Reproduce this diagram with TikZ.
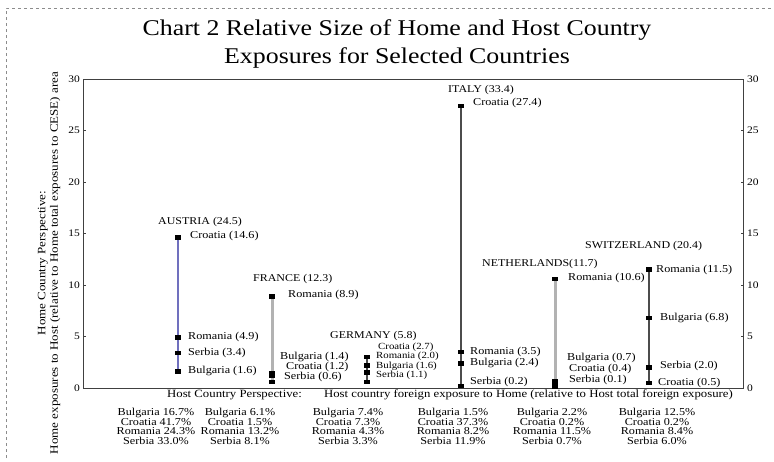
\documentclass[tikz,border=0pt]{standalone}
\usepackage{fontspec}
\setmainfont{Liberation Serif}[FakeStretch=1.15]
\definecolor{austriablue}{RGB}{112,112,190}
\begin{document}
\begin{tikzpicture}[x=1pt,y=-1pt,
  mk/.style={rectangle, fill=black, minimum width=6pt, minimum height=4.5pt, inner sep=0pt},
  lbl/.style={font=\fontsize{10.6}{10}\selectfont, inner sep=0pt, anchor=west},
  small lbl/.style={font=\fontsize{9.4}{9}\selectfont, inner sep=0pt, anchor=west},
  hdr/.style={font=\fontsize{10.4}{10}\selectfont, inner sep=0pt, anchor=west},
  tick/.style={font=\fontsize{10}{10}\selectfont, inner sep=0pt},
  tbl/.style={font=\fontsize{10.6}{9.7}\selectfont, inner sep=0pt, align=center, anchor=north},
  blue stem/.style={draw=austriablue, line width=1.3pt},
  grey stem/.style={draw=black!30, line width=3pt},
  dark stem/.style={draw=black!70, line width=1.2pt},
]
\useasboundingbox (0,0) rectangle (774,461);
% outer dashed frame
\draw[black!45, dashed, line width=0.6pt] (6,458) -- (6,8) -- (774,8);

% title
\node[font=\fontsize{22.5}{28}\selectfont, align=center] (title) at (397,44)
  {Chart 2 Relative Size of Home and Host Country\\Exposures for Selected Countries};

% plot frame
\draw[black!75, line width=0.9pt] (83.5,79) rectangle (743,388);
\foreach \v in {0,5,...,30}{
  \draw[black!75, line width=0.8pt] (83.5,{388-10.3*\v}) -- ++(2.5,0);
  \draw[black!75, line width=0.8pt] (743,{388-10.3*\v}) -- ++(-2.5,0);
  \node[tick, anchor=east] at (80,{388-10.3*\v}) {\v};
  \node[tick, anchor=west] at (747,{388-10.3*\v}) {\v};
}

% vertical axis caption
\node[rotate=90, font=\fontsize{11.3}{12.5}\selectfont, align=center] (ycap) at (49,263)
  {Home Country Perspective:\\Home exposures to Host (relative to Home total exposures to CESE) area};

% ---- Austria
\node[mk] (aut-cro) at (178,{388-10.3*14.6}) {};
\node[mk] (aut-rom) at (178,{388-10.3*4.9}) {};
\node[mk] (aut-ser) at (178,{388-10.3*3.4}) {};
\node[mk] (aut-bul) at (178,{388-10.3*1.6}) {};
\draw[blue stem] (aut-cro.center) -- (aut-bul.center);
\foreach \n in {aut-cro,aut-rom,aut-ser,aut-bul} \node[mk] at (\n) {};
\node[hdr] (aut) at (158,222) {AUSTRIA (24.5)};
\node[lbl] at (190,235.5) {Croatia (14.6)};
\node[lbl] at (188,337) {Romania (4.9)};
\node[lbl] at (188,352.5) {Serbia (3.4)};
\node[lbl] at (188,371) {Bulgaria (1.6)};

% ---- France
\node[mk] (fra-rom) at (272,{388-10.3*8.9}) {};
\node[mk] (fra-bul) at (272,{388-10.3*1.4}) {};
\node[mk] (fra-cro) at (272,{388-10.3*1.2}) {};
\node[mk] (fra-ser) at (272,{388-10.3*0.6}) {};
\draw[grey stem] (fra-rom.center) -- (fra-ser.center);
\foreach \n in {fra-rom,fra-bul,fra-cro,fra-ser} \node[mk] at (\n) {};
\node[hdr] (fra) at (253,279) {FRANCE (12.3)};
\node[lbl] at (288,294.5) {Romania (8.9)};
\node[lbl] at (280,357) {Bulgaria (1.4)};
\node[lbl] at (286,367) {Croatia (1.2)};
\node[lbl] at (284,377) {Serbia (0.6)};

% ---- Germany
\node[mk] (deu-cro) at (367,{388-10.3*3.0}) {};
\node[mk] (deu-rom) at (367,{388-10.3*2.2}) {};
\node[mk] (deu-bul) at (367,{388-10.3*1.5}) {};
\node[mk] (deu-ser) at (367,{388-10.3*0.6}) {};
\draw[dark stem] (deu-cro.center) -- (deu-ser.center);
\foreach \n in {deu-cro,deu-rom,deu-bul,deu-ser} \node[mk] at (\n) {};
\node[hdr] (deu) at (330,336) {GERMANY (5.8)};
\node[small lbl] at (378,347) {Croatia (2.7)};
\node[small lbl] at (376,356.5) {Romania (2.0)};
\node[small lbl] at (376,366) {Bulgaria (1.6)};
\node[small lbl] at (376,375.5) {Serbia (1.1)};

% ---- Italy
\node[mk] (ita-cro) at (461,{388-10.3*27.4}) {};
\node[mk] (ita-rom) at (461,{388-10.3*3.5}) {};
\node[mk] (ita-bul) at (461,{388-10.3*2.4}) {};
\node[mk] (ita-ser) at (461,{388-10.3*0.2}) {};
\draw[dark stem] (ita-cro.center) -- (ita-ser.center);
\foreach \n in {ita-cro,ita-rom,ita-bul,ita-ser} \node[mk] at (\n) {};
\node[hdr] (ita) at (448,90) {ITALY (33.4)};
\node[lbl] at (473,103) {Croatia (27.4)};
\node[lbl] at (470,352) {Romania (3.5)};
\node[lbl] at (470,362.5) {Bulgaria (2.4)};
\node[lbl] at (470,382) {Serbia (0.2)};

% ---- Netherlands
\node[mk] (nld-rom) at (555,{388-10.3*10.6}) {};
\node[mk] (nld-bul) at (555,{388-10.3*0.7}) {};
\node[mk] (nld-cro) at (555,{388-10.3*0.4}) {};
\node[mk] (nld-ser) at (555,{388-10.3*0.1}) {};
\draw[grey stem] (nld-rom.center) -- (nld-ser.center);
\foreach \n in {nld-rom,nld-bul,nld-cro,nld-ser} \node[mk] at (\n) {};
\node[hdr] (nld) at (482,264) {NETHERLANDS(11.7)};
\node[lbl] at (568,277.5) {Romania (10.6)};
\node[lbl] at (567,358) {Bulgaria (0.7)};
\node[lbl] at (569,369) {Croatia (0.4)};
\node[lbl] at (569,380) {Serbia (0.1)};

% ---- Switzerland
\node[mk] (che-rom) at (649,{388-10.3*11.5}) {};
\node[mk] (che-bul) at (649,{388-10.3*6.8}) {};
\node[mk] (che-ser) at (649,{388-10.3*2.0}) {};
\node[mk] (che-cro) at (649,{388-10.3*0.5}) {};
\draw[dark stem] (che-rom.center) -- (che-cro.center);
\foreach \n in {che-rom,che-bul,che-ser,che-cro} \node[mk] at (\n) {};
\node[hdr] (che) at (585,246) {SWITZERLAND (20.4)};
\node[lbl] at (656,269.5) {Romania (11.5)};
\node[lbl] at (660,318) {Bulgaria (6.8)};
\node[lbl] at (660,366) {Serbia (2.0)};
\node[lbl] at (658,382.5) {Croatia (0.5)};

% host perspective caption and tables
\node[font=\fontsize{11.1}{10}\selectfont, inner sep=0pt] (xcap) at (450,395)
  {Host Country Perspective:\qquad Host country foreign exposure to Home (relative to Host total foreign exposure)};
\node[tbl] (t-aut) at (156,408) {Bulgaria 16.7\%\\Croatia 41.7\%\\Romania 24.3\%\\Serbia 33.0\%};
\node[tbl] (t-fra) at (240,408) {Bulgaria 6.1\%\\Croatia 1.5\%\\Romania 13.2\%\\Serbia 8.1\%};
\node[tbl] (t-deu) at (348,408) {Bulgaria 7.4\%\\Croatia 7.3\%\\Romania 4.3\%\\Serbia 3.3\%};
\node[tbl] (t-ita) at (453,408) {Bulgaria 1.5\%\\Croatia 37.3\%\\Romania 8.2\%\\Serbia 11.9\%};
\node[tbl] (t-nld) at (552,408) {Bulgaria 2.2\%\\Croatia 0.2\%\\Romania 11.5\%\\Serbia 0.7\%};
\node[tbl] (t-che) at (657,408) {Bulgaria 12.5\%\\Croatia 0.2\%\\Romania 8.4\%\\Serbia 6.0\%};
\end{tikzpicture}
\end{document}
